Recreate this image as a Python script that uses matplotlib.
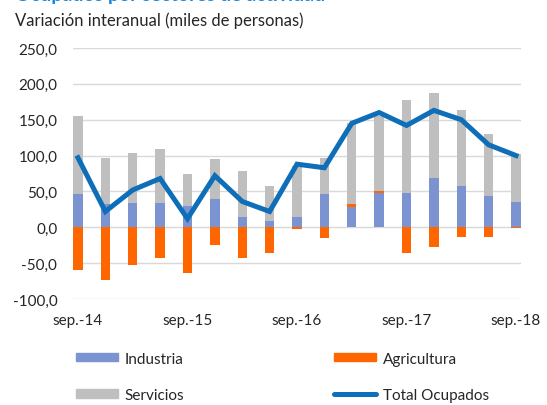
import matplotlib
matplotlib.use("Agg")
import matplotlib.pyplot as plt
from matplotlib.patches import Patch
from matplotlib.lines import Line2D
import numpy as np

plt.rcParams['font.family'] = ['Lato', 'DejaVu Sans']

periods = ["sep.-14", "dic.-14", "mar.-15", "jun.-15", "sep.-15", "dic.-15", "mar.-16", "jun.-16",
           "sep.-16", "dic.-16", "mar.-17", "jun.-17", "sep.-17", "dic.-17", "mar.-18", "jun.-18", "sep.-18"]
industria = [46, 32, 34, 34, 30, 39, 14, 9, 14, 46, 28, 48, 48, 69, 58, 44, 35]
agricultura = [-59, -73, -52, -43, -64, -25, -43, -36, -2, -15, 5, 2, -36, -27, -14, -14, -1]
servicios = [109, 65, 70, 75, 44, 56, 65, 49, 71, 51, 112, 105, 130, 118, 106, 86, 67]
total = [97, 22, 52, 68, 12, 72, 36, 22, 88, 83, 145, 160, 142, 163, 150, 115, 100]
yticks = [-100, -50, 0, 50, 100, 150, 200, 250]

c_ind = '#7B93D1'
c_agr = '#FF6600'
c_ser = '#BFBFBF'
c_tot = '#0E6FB8'

fig = plt.figure(figsize=(5.47, 4.06), dpi=100)
ax = fig.add_axes([73.3 / 547, 1 - 300 / 406, (520.7 - 73.3) / 547, (300 - 49) / 406])

x = np.arange(len(periods))
ind = np.array(industria, dtype=float)
agr = np.array(agricultura, dtype=float)
ser = np.array(servicios, dtype=float)
w = 0.34

agr_pos = np.where(agr > 0, agr, 0)
agr_neg = np.where(agr < 0, agr, 0)
ax.bar(x, ind, w, color=c_ind, zorder=2)
ax.bar(x, agr_pos, w, bottom=ind, color=c_agr, zorder=2)
ax.bar(x, agr_neg, w, color=c_agr, zorder=2)
ax.bar(x, ser, w, bottom=ind + agr_pos, color=c_ser, zorder=2)
ax.plot(x, total, color=c_tot, lw=3.6, zorder=3, solid_joinstyle='miter')

ax.set_xlim(-w / 2, len(periods) - 1 + w / 2)
ax.set_ylim(-100, 250)
ax.set_yticks(yticks)
ax.set_yticklabels([f"{v:,.1f}".replace('.', ',') for v in yticks])
ax.set_xticks(x[::4])
ax.set_xticklabels([periods[i] for i in range(0, len(periods), 4)])
ax.tick_params(axis='both', length=0, labelsize=11, colors='#262626')
ax.tick_params(axis='y', pad=11.5)
ax.tick_params(axis='x', pad=10)
ax.grid(axis='y', color='#D9D9D9', lw=1, zorder=0)
ax.set_axisbelow(True)
for s in ax.spines.values():
    s.set_visible(False)

fig.text(15 / 547, 1 - 0.5 / 406, "Ocupados por sectores de actividad", fontsize=14,
         fontweight='bold', color='#1C86D8', va='baseline', ha='left')
fig.text(15 / 547, 1 - 26 / 406, "Variación interanual (miles de personas)", fontsize=12,
         color='#262626', va='baseline', ha='left')

handles = [Patch(color=c_ind), Patch(color=c_ser), Patch(color=c_agr),
           Line2D([0], [0], color=c_tot, lw=3.6, solid_capstyle='round')]
labels = ["Industria", "Servicios", "Agricultura", "Total Ocupados"]
fig.legend(handles, labels, ncol=2, loc='upper left', bbox_to_anchor=(62 / 547, 1 - 339 / 406),
           frameon=False, fontsize=11, handlelength=2.75, handleheight=0.46,
           labelspacing=1.45, columnspacing=9.8, handletextpad=0.45, labelcolor='#262626')

fig.savefig('out.png', dpi=100)
